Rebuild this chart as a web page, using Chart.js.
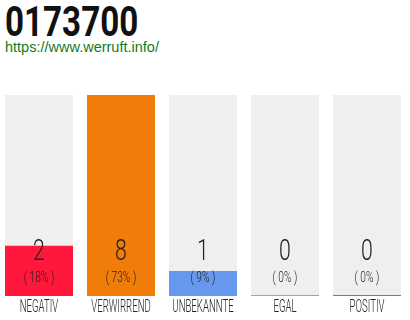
<!DOCTYPE html>
<html>
<head>
<meta charset="utf-8">
<script src="https://cdn.jsdelivr.net/npm/chart.js@4"></script>
<style>
  html, body { margin: 0; padding: 0; background: #fff; }
  body { width: 410px; height: 320px; position: relative; overflow: hidden; }
  #title {
    position: absolute; left: 5px; top: -3px;
    font: bold 42px Roboto, sans-serif; color: #111;
    transform: scaleX(0.79); transform-origin: 0 0; white-space: nowrap;
  }
  #link {
    position: absolute; left: 5px; top: 39px;
    font: 14.5px "Liberation Sans", Arial, sans-serif; color: #137a1f;
  }
  #wrap { position: absolute; left: -2px; top: 0; width: 410px; height: 320px; }
</style>
</head>
<body>
<div id="title">0173700</div>
<div id="link">https://www.werruft.info/</div>
<div id="wrap"><canvas id="c"></canvas></div>
<script>
// Bewertungen
const categories = ['NEGATIV', 'VERWIRREND', 'UNBEKANNTE', 'EGAL', 'POSITIV'];
const counts = [2, 8, 1, 0, 0];
const percents = [18, 73, 9, 0, 0];
const barColors = ['#ff173c', '#f07c0a', '#6699ee', '#77cc44', '#11bb44'];
const maxCount = 8;

// draw condensed thin text (numbers, percentages, labels)
function condensedText(ctx, text, x, y, size, sx) {
  ctx.save();
  ctx.translate(x, y);
  ctx.scale(sx, 1);
  ctx.font = '300 ' + size + 'px Roboto, sans-serif';
  ctx.textAlign = 'center';
  ctx.textBaseline = 'middle';
  ctx.fillText(text, 0, 0);
  ctx.restore();
}

const textPlugin = {
  id: 'barTexts',
  afterDatasetsDraw(chart) {
    const ctx = chart.ctx;
    const area = chart.chartArea;
    const meta = chart.getDatasetMeta(0);
    ctx.fillStyle = '#222';
    meta.data.forEach((bar, i) => {
      condensedText(ctx, String(counts[i]), bar.x, area.bottom - 43, 29.5, 0.72);
      condensedText(ctx, '( ' + percents[i] + '% )', bar.x, area.bottom - 18, 15, 0.68);
      condensedText(ctx, categories[i], bar.x, area.bottom + 12, 17.5, 0.55);
    });
  }
};

new Chart(document.getElementById('c'), {
  type: 'bar',
  data: {
    labels: categories,
    datasets: [
      {
        data: counts,
        backgroundColor: barColors,
        minBarLength: 1,
        grouped: false,
        barPercentage: 68 / 82,
        categoryPercentage: 1
      },
      {
        data: categories.map(() => maxCount),
        backgroundColor: '#efefef',
        grouped: false,
        barPercentage: 68 / 82,
        categoryPercentage: 1
      }
    ]
  },
  options: {
    responsive: true,
    maintainAspectRatio: false,
    animation: false,
    layout: { padding: { top: 95, bottom: 24, left: 0, right: 0 } },
    plugins: {
      legend: { display: false },
      tooltip: { enabled: false }
    },
    scales: {
      x: { display: false },
      y: { display: false, min: 0, max: maxCount }
    }
  },
  plugins: [textPlugin]
});
</script>
</body>
</html>
